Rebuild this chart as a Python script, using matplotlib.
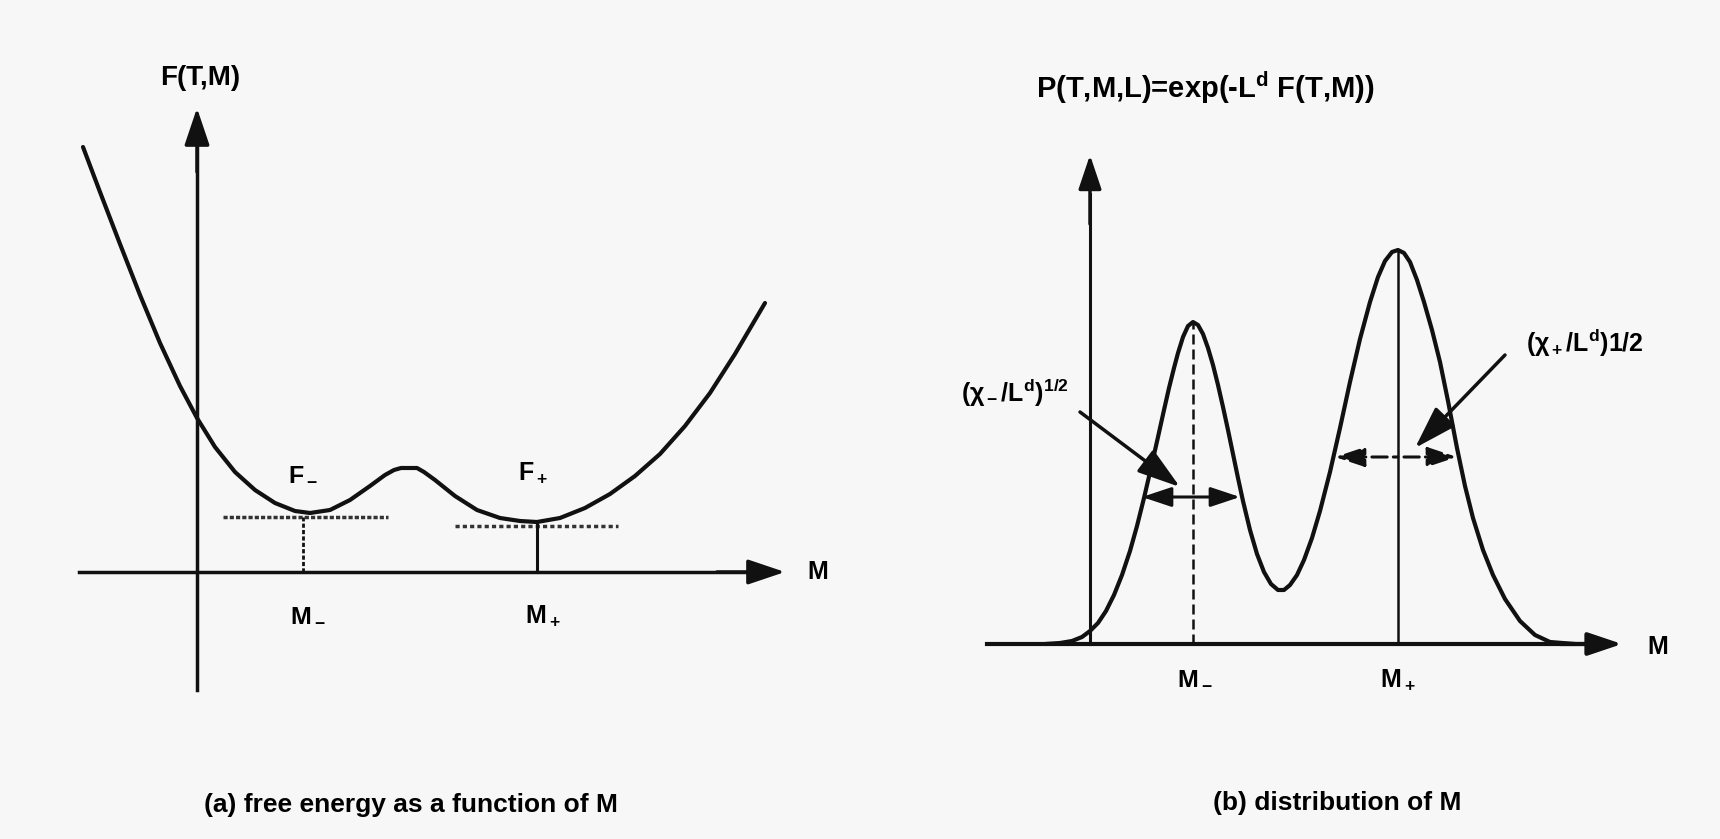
import matplotlib
matplotlib.use("Agg")
import matplotlib.pyplot as plt
from matplotlib.patches import ArrowStyle

plt.rcParams['font.family'] = ['Liberation Sans', 'DejaVu Sans']
plt.rcParams['font.weight'] = 'bold'
plt.rcParams['mathtext.fontset'] = 'custom'
plt.rcParams['mathtext.rm'] = 'Liberation Sans:bold'
plt.rcParams['mathtext.it'] = 'Liberation Sans:bold'
plt.rcParams['mathtext.bf'] = 'Liberation Sans:bold'

INK = '#111111'
BG = '#f7f7f7'

# ---- panel (a): free energy F(T,M) ----
m_free = [-1.14, -0.97, -0.77, -0.57, -0.37, -0.17, 0.00, 0.18, 0.38, 0.58,
          0.78, 0.98, 1.13, 1.33, 1.53, 1.73, 1.88, 1.97, 2.04, 2.20,
          2.27, 2.38, 2.58, 2.80, 3.03, 3.23, 3.40, 3.63, 3.88, 4.13,
          4.38, 4.63, 4.88, 5.13, 5.38, 5.68]
f_free = [4.25, 3.80, 3.28, 2.77, 2.29, 1.86, 1.54, 1.25, 1.00, 0.82,
          0.69, 0.61, 0.59, 0.62, 0.72, 0.86, 0.97, 1.02, 1.04, 1.04,
          1.00, 0.92, 0.76, 0.62, 0.54, 0.51, 0.50, 0.54, 0.64, 0.78,
          0.96, 1.18, 1.46, 1.79, 2.18, 2.69]
a_m_minus, a_m_plus = 1.06, 3.40
a_f_minus, a_f_plus = 0.55, 0.46
a_fline_minus = [0.26, 1.91]
a_fline_plus = [2.58, 4.21]

# ---- panel (b): distribution P(T,M,L) ----
m_dist = [-0.45, -0.30, -0.18, -0.08, 0.00, 0.08, 0.16, 0.24, 0.32, 0.40,
          0.47, 0.54, 0.61, 0.68, 0.74, 0.79, 0.84, 0.88, 0.93, 0.98,
          1.03, 1.08, 1.13, 1.18, 1.23, 1.28, 1.33, 1.38, 1.43, 1.48,
          1.53, 1.60, 1.67, 1.74, 1.81, 1.88, 1.94, 2.00, 2.07, 2.14,
          2.22, 2.30, 2.40, 2.50, 2.60, 2.70, 2.80, 2.88, 2.95, 3.02,
          3.08, 3.14, 3.20, 3.27, 3.34, 3.42, 3.50, 3.58, 3.67, 3.75,
          3.83, 3.93, 4.03, 4.15, 4.30, 4.45, 4.60, 4.85]
p_dist = [0.00, 0.01, 0.03, 0.07, 0.13, 0.21, 0.33, 0.49, 0.69, 0.93,
          1.18, 1.46, 1.76, 2.07, 2.34, 2.56, 2.76, 2.91, 3.07, 3.18,
          3.22, 3.19, 3.10, 2.96, 2.79, 2.59, 2.37, 2.14, 1.90, 1.66,
          1.43, 1.14, 0.90, 0.72, 0.60, 0.54, 0.54, 0.59, 0.69, 0.84,
          1.06, 1.33, 1.72, 2.16, 2.62, 3.05, 3.42, 3.67, 3.83, 3.92,
          3.94, 3.91, 3.82, 3.64, 3.42, 3.14, 2.82, 2.43, 1.96, 1.58,
          1.26, 0.94, 0.69, 0.45, 0.23, 0.09, 0.02, 0.00]
b_m_minus, b_m_plus = 1.03, 3.08
b_peak_minus, b_peak_plus = 3.22, 3.94
b_width_minus = [0.52, 1.50]
b_width_minus_y = 1.47
b_width_plus = [2.45, 3.67]
b_width_plus_y = 1.87


def arrow(ax, start, end, scale=24, hl=0.95, hw=0.32, lw=2.5, style='-|>', ls='-'):
    ax.annotate('', xy=end, xytext=start,
                arrowprops=dict(arrowstyle=ArrowStyle(style, head_length=hl, head_width=hw),
                                mutation_scale=scale, lw=lw, color=INK,
                                shrinkA=0, shrinkB=0, linestyle=ls))


fig = plt.figure(figsize=(17.2, 8.39), dpi=100, facecolor=BG)
ax1 = fig.add_axes([0, 0, 0.5, 1])
ax2 = fig.add_axes([0.5, 0, 0.5, 1])
for ax in (ax1, ax2):
    ax.set_axis_off()
    ax.patch.set_alpha(0)

# panel (a)
ax1.set_xlim(-1.97, 6.63)
ax1.set_ylim(-2.67, 5.72)
ax1.plot([0, 0], [-1.18, 4.4], color=INK, lw=2.5)
arrow(ax1, (0, 4.0), (0, 4.64))
ax1.plot([-1.18, 5.6], [0, 0], color=INK, lw=2.5)
arrow(ax1, (5.2, 0), (5.88, 0))
ax1.plot(m_free, f_free, color=INK, lw=3, solid_joinstyle='round', solid_capstyle='round')
ax1.plot(a_fline_minus, [a_f_minus, a_f_minus], color='#333333', lw=2.5, ls=(0, (1.2, 0.6)))
ax1.plot(a_fline_plus, [a_f_plus, a_f_plus], color='#333333', lw=2.5, ls=(0, (1.2, 0.9)))
ax1.plot([a_m_minus, a_m_minus], [0, a_f_minus], color=INK, lw=2, ls=(0, (1.5, 0.8)))
ax1.plot([a_m_plus, a_m_plus], [0, a_f_plus + 0.03], color=INK, lw=2.2)

ax1.text(0.03, 4.94, 'F(T,M)', fontsize=20, ha='center', va='center')
ax1.text(6.21, 0.0, 'M', fontsize=18, ha='center', va='center')
ax1.text(1.06, 0.99, 'F$_-$', fontsize=18, ha='center', va='center')
ax1.text(3.36, 0.99, 'F$_+$', fontsize=18, ha='center', va='center')
ax1.text(1.11, -0.42, 'M$_-$', fontsize=18, ha='center', va='center')
ax1.text(3.46, -0.44, 'M$_+$', fontsize=18, ha='center', va='center')
ax1.text(2.14, -2.33, '(a) free energy as a function of M', fontsize=19,
         ha='center', va='center')

# panel (b)
ax2.set_xlim(-2.30, 6.30)
ax2.set_ylim(-1.95, 6.44)
ax2.plot([0, 0], [0, 4.5], color=INK, lw=2.2)
arrow(ax2, (0, 4.2), (0, 4.89), scale=22)
ax2.plot([-1.03, 5.0], [0, 0], color=INK, lw=3)
arrow(ax2, (4.7, 0), (5.32, 0), scale=22, lw=3)
ax2.plot(m_dist, p_dist, color=INK, lw=3, solid_joinstyle='round', solid_capstyle='round')
ax2.plot([b_m_minus, b_m_minus], [0, b_peak_minus], color=INK, lw=1.8, ls=(0, (4, 2)))
ax2.plot([b_m_plus, b_m_plus], [0, b_peak_plus], color=INK, lw=1.8)

arrow(ax2, (b_width_minus[0], b_width_minus_y), (b_width_minus[1], b_width_minus_y),
      scale=20, hl=0.9, hw=0.3, lw=2.2, style='<|-|>')
arrow(ax2, (b_width_plus[0], b_width_plus_y), (b_width_plus[1], b_width_plus_y),
      scale=20, hl=0.9, hw=0.3, lw=2.2, style='<|-|>', ls=(0, (5, 2, 1.5, 2)))
arrow(ax2, (-0.10, 2.32), (0.90, 1.57), scale=22, hl=1.2, hw=0.38, lw=2.5)
arrow(ax2, (4.15, 2.89), (3.25, 1.96), scale=22, hl=1.2, hw=0.38, lw=2.5)

ax2.text(1.15, 5.56, r'P(T,M,L)=exp(-L$^\mathrm{d}$ F(T,M))', fontsize=21,
         ha='center', va='center')
ax2.text(-0.75, 2.51, r'($\chi_-$/L$^\mathrm{d}$)$^{1/2}$', fontsize=18,
         ha='center', va='center')
ax2.text(4.95, 3.01, r'($\chi_+$/L$^\mathrm{d}$)1/2', fontsize=18,
         ha='center', va='center')
ax2.text(5.68, -0.03, 'M', fontsize=18, ha='center', va='center')
ax2.text(1.05, -0.33, 'M$_-$', fontsize=18, ha='center', va='center')
ax2.text(3.08, -0.36, 'M$_+$', fontsize=18, ha='center', va='center')
ax2.text(2.47, -1.59, '(b) distribution of M', fontsize=19, ha='center', va='center')

fig.savefig('out.png', dpi=100, facecolor=BG)
